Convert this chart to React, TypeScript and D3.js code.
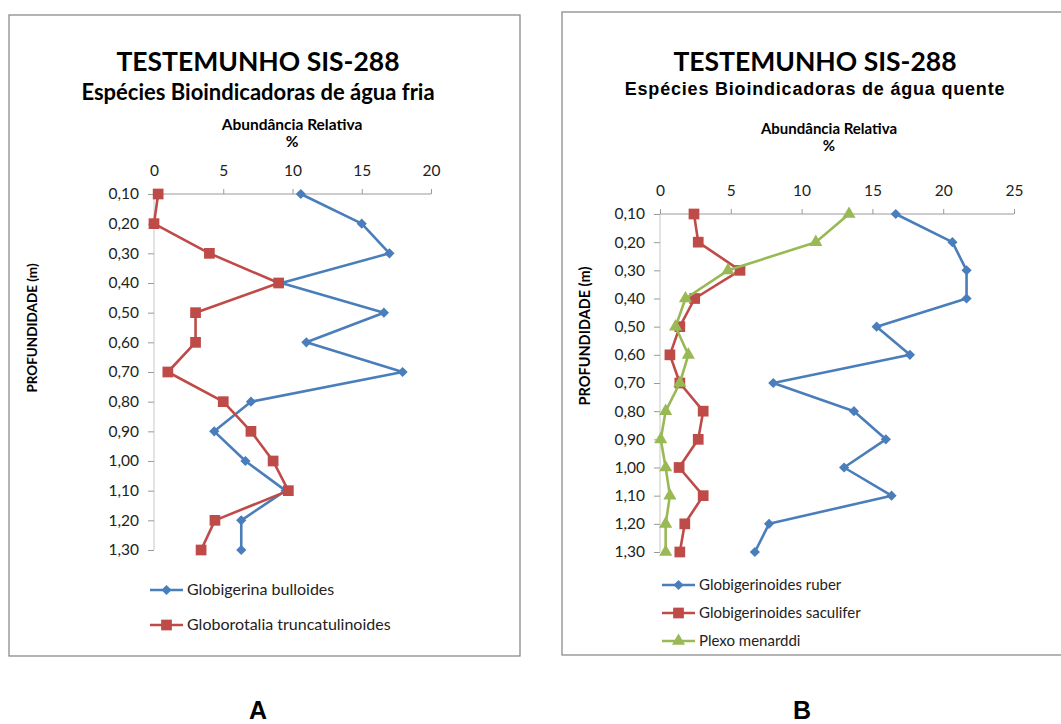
import React, { useEffect, useRef } from "react";
import * as d3 from "d3";

const depths = ["0,10", "0,20", "0,30", "0,40", "0,50", "0,60", "0,70", "0,80", "0,90", "1,00", "1,10", "1,20", "1,30"];

const bulloides = [10.6, 15.0, 17.0, 9.2, 16.6, 11.0, 17.95, 7.0, 4.35, 6.6, 9.5, 6.3, 6.3];
const truncatulinoides = [0.3, 0.0, 4.0, 9.0, 3.0, 3.0, 1.0, 5.0, 7.0, 8.6, 9.7, 4.4, 3.4];

const ruber = [16.65, 20.65, 21.65, 21.65, 15.3, 17.65, 8.0, 13.7, 15.95, 13.0, 16.35, 7.7, 6.7];
const sacculifer = [2.4, 2.7, 5.65, 2.45, 1.4, 0.7, 1.4, 3.05, 2.7, 1.35, 3.05, 1.75, 1.4];
const menardii = [13.35, 11.0, 4.8, 1.8, 1.1, 2.0, 1.4, 0.4, 0.05, 0.4, 0.7, 0.4, 0.4];

const ticksA = [0, 5, 10, 15, 20];
const ticksB = [0, 5, 10, 15, 20, 25];

const BLUE = "#4A7EBB";
const RED = "#BE4B48";
const GREEN = "#98B954";
const AXIS = "#9a9a9a";
const FONT = "Lato, 'Open Sans', sans-serif";
const ARIAL = "'Liberation Sans', Arial, sans-serif";

type Series = { name: string; values: number[]; color: string; marker: "diamond" | "square" | "triangle" };

const seriesA: Series[] = [
  { name: "Globigerina bulloides", values: bulloides, color: BLUE, marker: "diamond" },
  { name: "Globorotalia truncatulinoides", values: truncatulinoides, color: RED, marker: "square" },
];
const seriesB: Series[] = [
  { name: "Globigerinoides ruber", values: ruber, color: BLUE, marker: "diamond" },
  { name: "Globigerinoides saculifer", values: sacculifer, color: RED, marker: "square" },
  { name: "Plexo menarddi", values: menardii, color: GREEN, marker: "triangle" },
];

function markerPath(m: Series["marker"]) {
  if (m === "diamond") return d3.symbol(d3.symbolSquare, 52)()!;
  if (m === "square") return d3.symbol(d3.symbolSquare, 115)()!;
  return d3.symbol(d3.symbolTriangle, 75)()!;
}
function markerRot(m: Series["marker"]) {
  return m === "diamond" ? 45 : 0;
}

type PanelProps = {
  series: Series[];
  ticks: number[];
  xMax: number;
  x0: number;
  x1: number;
  y0: number;
  y1: number;
  box: { x: number; y: number; w: number; h: number };
  titleX: number;
  title: { y: number; size: number };
  subtitle: { text: string; y: number; size: number; font: string; weight: number; spacing: number };
  axisTitle: { x: number; y1: number; y2: number; size: number };
  tickLabelY: number;
  yTitle: { x: number; y: number; size: number };
  legend: { x: number; y: number; dy: number; size: number };
  letter: { text: string; x: number };
};

function Panel(p: PanelProps) {
  const xAxisRef = useRef<SVGGElement>(null);
  const yAxisRef = useRef<SVGGElement>(null);
  const x = d3.scaleLinear().domain([0, p.xMax]).range([p.x0, p.x1]);
  const y = d3.scalePoint<string>().domain(depths).range([p.y0, p.y1]);

  useEffect(() => {
    const gx = d3.select(xAxisRef.current!);
    gx.call(
      d3.axisTop(x).tickValues(p.ticks).tickSize(5).tickPadding(p.y0 - p.tickLabelY - 5).tickFormat((d) => String(d))
    );
    gx.select(".domain").attr("stroke", AXIS).attr("d", `M${p.x0},0H${p.x1}`);
    gx.selectAll(".tick line").attr("stroke", AXIS);
    gx.selectAll(".tick text")
      .attr("fill", "#222")
      .attr("font-size", 15.5)
      .attr("font-family", FONT);
    const gy = d3.select(yAxisRef.current!);
    gy.call(d3.axisLeft(y).tickSize(6).tickPadding(9));
    gy.select(".domain").attr("stroke", "#c8c8c8").attr("d", `M0,${p.y0}V${p.y1}`);
    gy.selectAll(".tick line").attr("stroke", AXIS);
    gy.selectAll(".tick text")
      .attr("fill", "#222")
      .attr("font-size", 15.5)
      .attr("font-family", FONT);
  });

  const line = d3
    .line<number>()
    .x((d) => x(d))
    .y((_, i) => y(depths[i])!);

  return (
    <g>
      <rect x={p.box.x} y={p.box.y} width={p.box.w} height={p.box.h} fill="#fff" stroke="#8c8c8c" strokeWidth={1.3} />
      <text x={p.titleX} y={p.title.y} textAnchor="middle" fontFamily={FONT} fontWeight={700} fontSize={p.title.size} fill="#000">
        TESTEMUNHO SIS-288
      </text>
      <text
        x={p.titleX}
        y={p.subtitle.y}
        textAnchor="middle"
        fontFamily={p.subtitle.font}
        fontWeight={p.subtitle.weight}
        fontSize={p.subtitle.size}
        letterSpacing={p.subtitle.spacing}
        fill="#000"
      >
        {p.subtitle.text}
      </text>
      <text x={p.axisTitle.x} y={p.axisTitle.y1} textAnchor="middle" fontFamily={FONT} fontWeight={700} fontSize={p.axisTitle.size} fill="#000">
        Abundância Relativa
      </text>
      <text x={p.axisTitle.x} y={p.axisTitle.y2} textAnchor="middle" fontFamily={FONT} fontWeight={700} fontSize={p.axisTitle.size} fill="#000">
        %
      </text>
      <text
        transform={`translate(${p.yTitle.x},${p.yTitle.y}) rotate(-90)`}
        textAnchor="middle"
        fontFamily={FONT}
        fontWeight={700}
        fontSize={p.yTitle.size}
        fill="#000"
      >
        PROFUNDIDADE (m)
      </text>
      <g ref={xAxisRef} transform={`translate(0,${p.y0})`} />
      <g ref={yAxisRef} transform={`translate(${p.x0},0)`} />
      {p.series.map((s) => (
        <g key={s.name}>
          <path d={line(s.values)!} fill="none" stroke={s.color} strokeWidth={2.6} strokeLinejoin="round" />
          {s.values.map((v, i) => (
            <path
              key={i}
              d={markerPath(s.marker)}
              transform={`translate(${x(v)},${y(depths[i])}) rotate(${markerRot(s.marker)})`}
              fill={s.color}
            />
          ))}
        </g>
      ))}
      {p.series.map((s, i) => {
        const ly = p.legend.y + i * p.legend.dy;
        return (
          <g key={"lg" + s.name}>
            <line x1={p.legend.x} x2={p.legend.x + 33} y1={ly} y2={ly} stroke={s.color} strokeWidth={2.6} />
            <path
              d={markerPath(s.marker)}
              transform={`translate(${p.legend.x + 16.5},${ly}) rotate(${markerRot(s.marker)})`}
              fill={s.color}
            />
            <text x={p.legend.x + 37} y={ly + 5} fontFamily={FONT} fontSize={p.legend.size} fill="#222">
              {s.name}
            </text>
          </g>
        );
      })}
      <text x={p.letter.x} y={719} textAnchor="middle" fontFamily={ARIAL} fontWeight={700} fontSize={25} fill="#000">
        {p.letter.text}
      </text>
    </g>
  );
}

export default function App() {
  return (
    <svg width={1061} height={724} style={{ position: "absolute", left: 0, top: 0, background: "#fff" }}>
      <rect x={0} y={0} width={1061} height={724} fill="#fff" />
      <Panel
        series={seriesA}
        ticks={ticksA}
        xMax={20}
        x0={154}
        x1={431}
        y0={194}
        y1={550}
        box={{ x: 9, y: 15, w: 511, h: 641 }}
        titleX={258}
        title={{ y: 71, size: 26.5 }}
        subtitle={{ text: "Espécies Bioindicadoras de água fria", y: 100, size: 22, font: FONT, weight: 700, spacing: 0 }}
        axisTitle={{ x: 292, y1: 130, y2: 147, size: 15.5 }}
        tickLabelY={176}
        yTitle={{ x: 37, y: 328, size: 13.5 }}
        legend={{ x: 150, y: 590, dy: 35, size: 16 }}
        letter={{ text: "A", x: 258 }}
      />
      <Panel
        series={seriesB}
        ticks={ticksB}
        xMax={25}
        x0={660}
        x1={1014}
        y0={214}
        y1={552}
        box={{ x: 562, y: 12, w: 520, h: 643 }}
        titleX={815}
        title={{ y: 71, size: 26.5 }}
        subtitle={{
          text: "Espécies Bioindicadoras de água quente",
          y: 95,
          size: 18,
          font: ARIAL,
          weight: 700,
          spacing: 0.8,
        }}
        axisTitle={{ x: 829, y1: 134, y2: 151, size: 15 }}
        tickLabelY={196}
        yTitle={{ x: 590, y: 336, size: 14.5 }}
        legend={{ x: 662, y: 585, dy: 28, size: 15 }}
        letter={{ text: "B", x: 802 }}
      />
    </svg>
  );
}
